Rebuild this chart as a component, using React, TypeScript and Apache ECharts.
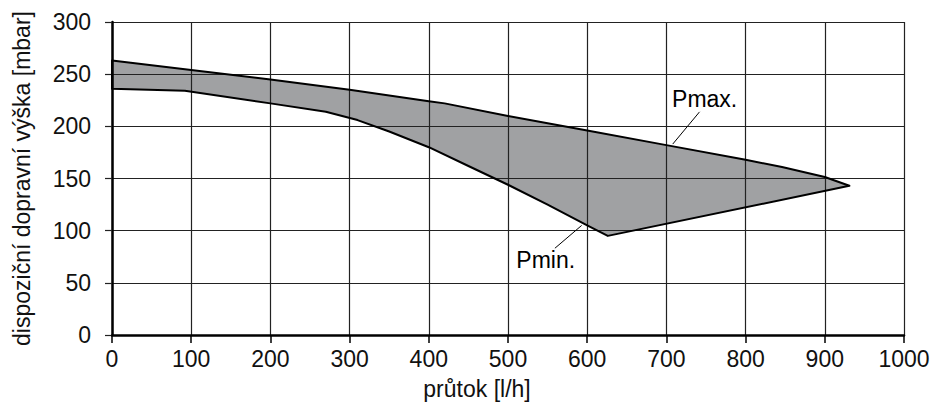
import React, { useEffect, useRef } from "react";
import * as echarts from "echarts";

// Pmax curve (upper boundary)
const pmaxX = [0, 100, 200, 300, 400, 420, 500, 600, 700, 800, 846, 900, 931];
const pmaxY = [263, 254, 245, 235, 224, 222, 210, 196, 182, 168, 161, 151.5, 143];
// Pmin curve (lower boundary, from left)
const pminX = [0, 92, 200, 270, 310, 350, 400, 450, 500, 550, 600, 626];
const pminY = [236, 234, 222, 214, 206, 195, 180, 162, 144, 125, 105, 95];
// closing segment from Pmin vertex to right tip
const closeX = [626, 931];
const closeY = [95, 143];

const xTicks = { min: 0, max: 1000, interval: 100 };
const yTicks = { min: 0, max: 300, interval: 50 };

const xTitle = "průtok [l/h]";
const yTitle = "dispoziční dopravní výška [mbar]";

const labelPmax = "Pmax.";
const labelPmin = "Pmin.";
const leaderPmax = [[708, 183], [742, 214]];
const leaderPmin = [[593, 105], [559, 83]];

const FONT = "'Liberation Sans', Arial, sans-serif";
const FS = 23;

function polygonPoints(): number[][] {
  const pts: number[][] = [];
  pmaxX.forEach((x, i) => pts.push([x, pmaxY[i]]));
  for (let i = closeX.length - 1; i >= 0; i--) pts.push([closeX[i], closeY[i]]);
  for (let i = pminX.length - 1; i >= 0; i--) pts.push([pminX[i], pminY[i]]);
  return pts;
}

export default function App() {
  const ref = useRef<HTMLDivElement>(null);
  useEffect(() => {
    document.body.style.margin = "0";
    if (!ref.current) return;
    const chart = echarts.init(ref.current, undefined, { renderer: "svg" });
    const poly = polygonPoints();
    const makeRender = (fill: string, stroke: string, lw: number) =>
      (params: any, api: any) => {
        if (params.dataIndex !== 0) return null;
        const pts = poly.map((p) => api.coord(p));
        return {
          type: "polygon",
          shape: { points: pts },
          style: { fill, stroke, lineWidth: lw, lineJoin: "round" },
        };
      };
    const axisLabel = {
      fontSize: FS,
      color: "#111",
      fontFamily: FONT,
      formatter: (v: number) => String(v),
    };
    const leaderLine = (pts: number[][]) => ({
      type: "line",
      z: 6,
      silent: true,
      symbol: "none",
      lineStyle: { color: "#000", width: 1 },
      data: pts,
    });
    const leaderText = (pt: number[], text: string, pos: string, dist: number, off: number[]) => ({
      type: "scatter",
      z: 7,
      silent: true,
      symbol: "circle",
      symbolSize: 1,
      itemStyle: { color: "#fff", opacity: 1 },
      label: {
        show: true,
        formatter: text,
        position: pos,
        distance: dist,
        offset: off,
        fontSize: FS,
        color: "#000",
        opacity: 1,
        textBorderWidth: 0,
        fontFamily: FONT,
      },
      data: [pt],
    });
    chart.setOption({
      animation: false,
      grid: { left: 112, right: 31, top: 22, bottom: 70, containLabel: false },
      xAxis: {
        type: "value",
        ...xTicks,
        name: xTitle,
        nameLocation: "middle",
        nameGap: 42,
        nameTextStyle: { fontSize: FS, color: "#111", fontFamily: FONT, padding: [0, 62, 0, 0] },
        axisLine: { show: true, onZero: false, lineStyle: { color: "#000", width: 2.5 } },
        axisTick: { show: true, length: 8, lineStyle: { color: "#000", width: 1.5 } },
        axisLabel: { ...axisLabel, margin: 12 },
        splitLine: { show: true, lineStyle: { color: "#222", width: 1.2 } },
      },
      yAxis: {
        type: "value",
        ...yTicks,
        name: yTitle,
        nameLocation: "middle",
        nameGap: 79,
        nameTextStyle: { fontSize: FS, color: "#111", fontFamily: FONT },
        axisLine: { show: true, onZero: false, lineStyle: { color: "#000", width: 2.5 } },
        axisTick: { show: true, length: 7, lineStyle: { color: "#222", width: 1.2 } },
        axisLabel: { ...axisLabel, margin: 21 },
        splitLine: { show: true, lineStyle: { color: "#222", width: 1.2 } },
      },
      series: [
        {
          type: "custom",
          z: -1,
          silent: true,
          data: [0],
          renderItem: makeRender("#a0a1a3", "none", 0),
        },
        {
          type: "custom",
          z: 5,
          silent: true,
          data: [0],
          renderItem: makeRender("none", "#000", 2),
        },
        leaderLine(leaderPmax),
        leaderLine(leaderPmin),
        leaderText(leaderPmax[1], labelPmax, "top", 1, [5, 0]),
        leaderText(leaderPmin[1], labelPmin, "bottom", 0, [-9, 0]),
      ],
    });
    return () => chart.dispose();
  }, []);
  return <div ref={ref} style={{ width: 935, height: 405 }} />;
}
